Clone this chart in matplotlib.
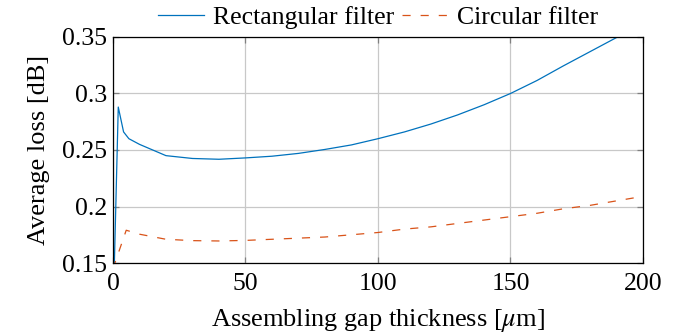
import matplotlib
matplotlib.use('Agg')
import matplotlib.pyplot as plt

# gap thickness in um
gap_rect = [0, 2, 4, 6, 10, 20, 30, 40, 50, 60, 70, 80, 90, 100,
            110, 120, 130, 140, 150, 160, 170, 180, 190, 200]
loss_rect = [0.10, 0.288, 0.266, 0.260, 0.255, 0.245, 0.2425, 0.2418, 0.243,
             0.2445, 0.247, 0.2505, 0.2545, 0.260, 0.266, 0.273, 0.281, 0.290,
             0.300, 0.3115, 0.3245, 0.337, 0.3495, 0.362]

gap_circ = [0, 5, 10, 20, 30, 40, 50, 60, 70, 80, 90, 100,
            110, 120, 130, 140, 150, 160, 170, 180, 190, 200]
loss_circ = [0.145, 0.179, 0.1755, 0.171, 0.1698, 0.1695, 0.170, 0.171, 0.172,
             0.173, 0.175, 0.177, 0.180, 0.182, 0.185, 0.188, 0.191, 0.194,
             0.198, 0.201, 0.205, 0.209]

x_ticks = [0, 50, 100, 150, 200]
y_ticks = [0.15, 0.2, 0.25, 0.3, 0.35]
y_ticklabels = ['0.15', '0.2', '0.25', '0.3', '0.35']

plt.rcParams['font.family'] = ['Liberation Serif', 'DejaVu Serif']
plt.rcParams['mathtext.fontset'] = 'stix'

FS = 18.5

fig = plt.figure(figsize=(6.88, 3.35), dpi=100)
ax = fig.add_axes([0.1642, 0.2149, 0.7704, 0.6747])

ax.plot(gap_rect, loss_rect, color='#0072BD', linewidth=0.9,
        label='Rectangular filter')
ax.plot(gap_circ, loss_circ, color='#D95319', linewidth=0.9,
        dashes=(6.5, 8), label='Circular filter')

ax.set_xlim(0, 200)
ax.set_ylim(0.15, 0.35)
ax.set_xticks(x_ticks)
ax.set_yticks(y_ticks)
ax.set_yticklabels(y_ticklabels)
ax.grid(True, color='#c8c8c8', linewidth=0.9)
ax.tick_params(direction='in', length=4, width=0.9, color='#808080',
               top=True, right=True, labelsize=FS, pad=4)
ax.tick_params(axis='x', pad=7)
for s in ax.spines.values():
    s.set_linewidth(0.9)

ax.set_xlabel(r'Assembling gap thickness [$\mu$m]', fontsize=FS + 0.5, labelpad=9)
ax.set_ylabel('Average loss [dB]', fontsize=FS + 0.5, labelpad=9)

ax.legend(loc='lower center', bbox_to_anchor=(0.5, 0.99), ncol=2,
          frameon=False, fontsize=FS, handlelength=1.8, columnspacing=0.3,
          handletextpad=0.35, borderaxespad=0.0)

fig.savefig('out.png', dpi=100)
